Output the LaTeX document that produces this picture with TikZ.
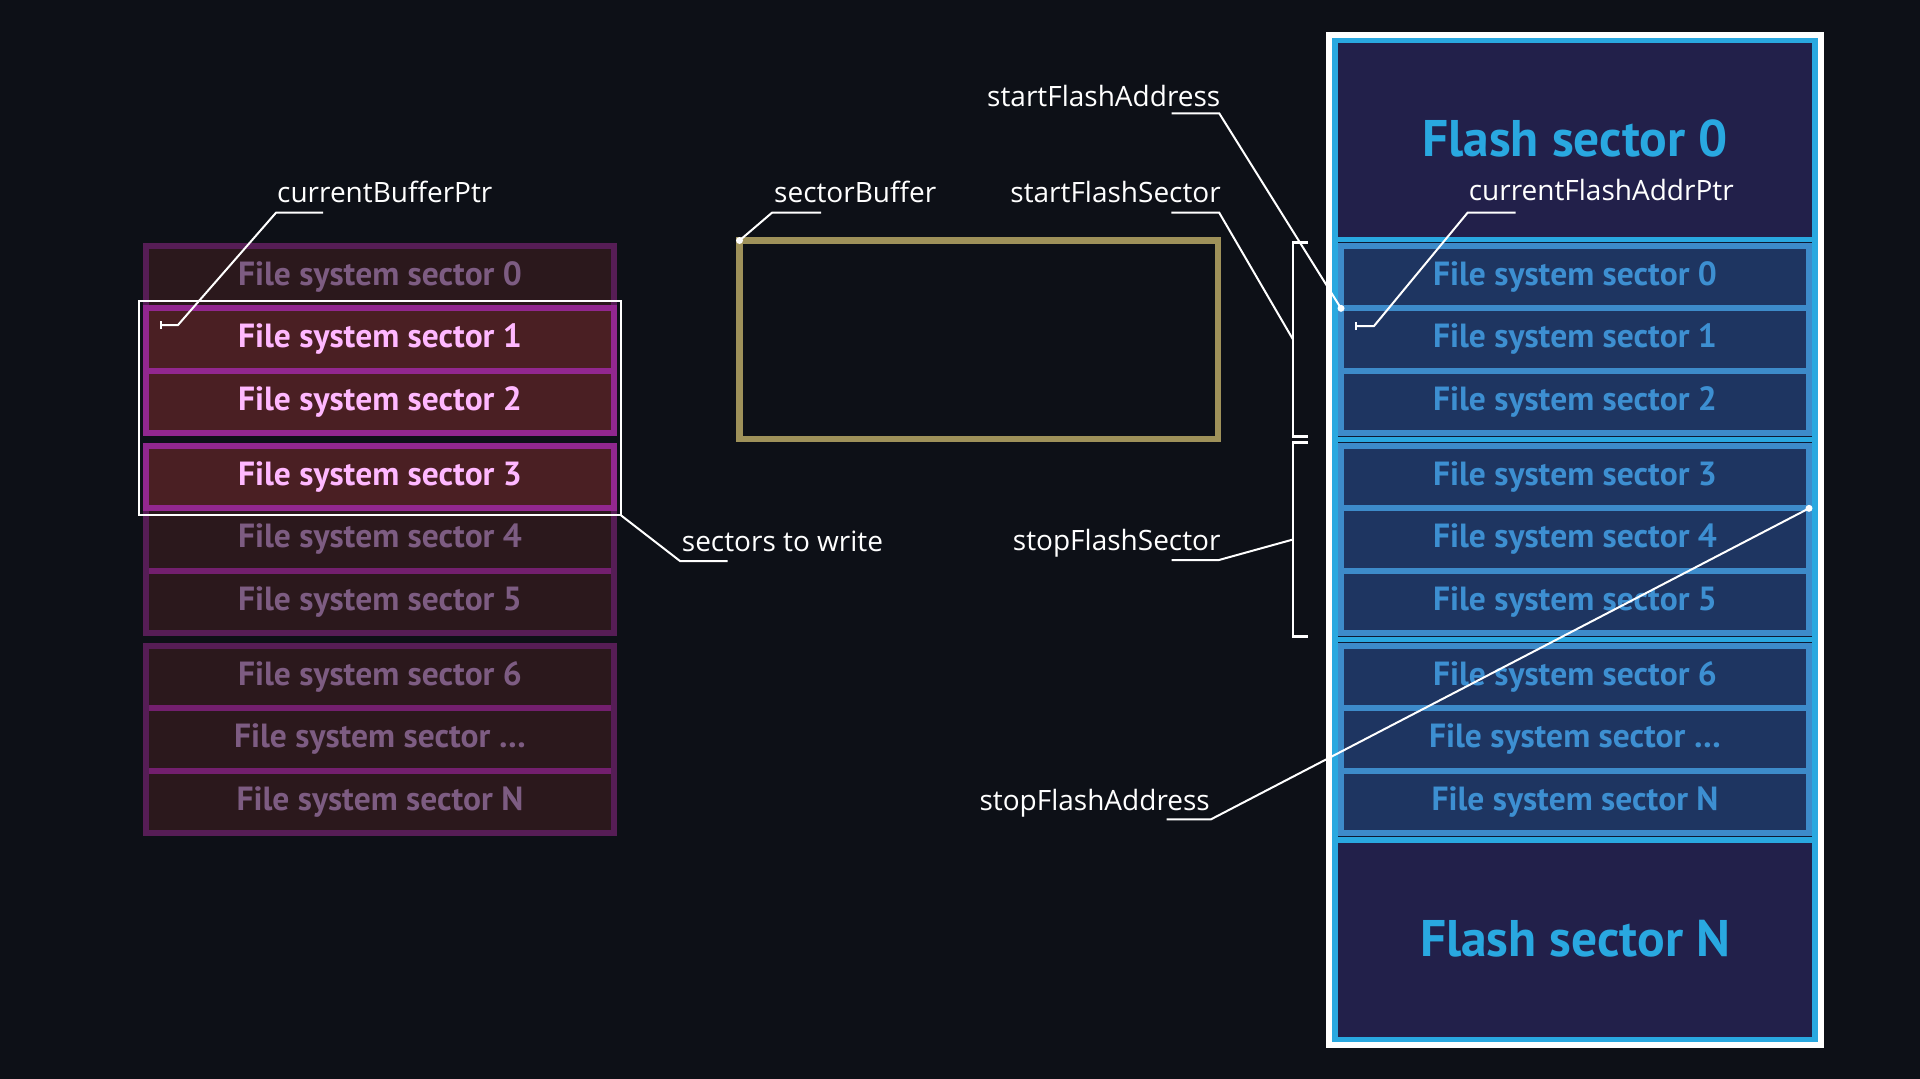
\documentclass[tikz,border=0pt]{standalone}
\usepackage{fontspec}
\setmainfont{Open Sans}
\newfontfamily\sectorfont{PT Sans}
\usetikzlibrary{arrows.meta,calc}

\definecolor{bgdark}{HTML}{0D1017}
\definecolor{dimfill}{HTML}{2B181C}
\definecolor{dimedge}{HTML}{561D56}
\definecolor{dimmid}{HTML}{731F6E}
\definecolor{dimtext}{HTML}{7D5C82}
\definecolor{hifill}{HTML}{4A1F23}
\definecolor{hiedge}{HTML}{92278F}
\definecolor{hitext}{HTML}{FFB8FF}
\definecolor{bufedge}{HTML}{9E915A}
\definecolor{flashcyan}{HTML}{29A8E0}
\definecolor{flashfill}{HTML}{22204A}
\definecolor{romfill}{HTML}{1E3561}
\definecolor{romedge}{HTML}{3D8BCA}
\definecolor{romtext}{HTML}{3D8FD1}
\definecolor{sepdark}{HTML}{0E1A33}

\tikzset{
  fssector/.style={minimum width=468pt, minimum height=62.33pt, inner sep=0pt, outer sep=0pt,
    font=\sectorfont\bfseries\fontsize{33.5}{38}\selectfont},
  dimsector/.style={fssector, fill=dimfill, text=dimtext},
  hisector/.style={fssector, fill=hifill, text=hitext},
  romsector/.style={fssector, fill=romfill, draw=romedge, line width=6pt, text=romtext},
  flashblock/.style={minimum width=474pt, minimum height=194pt, inner sep=0pt, outer sep=0pt,
    fill=flashfill, text=flashcyan, font=\sectorfont\bfseries\fontsize{51.5}{58}\selectfont},
  ptrlabel/.style={text=white, inner sep=0pt, font=\fontsize{28}{32}\selectfont},
  leader/.style={white, line width=2pt},
  bracket/.style={white, line width=2.5pt},
}

\begin{document}
\begin{tikzpicture}[x=1pt,y=-1pt]
    \fill[bgdark] (0,0) rectangle (1920,1079);
    \useasboundingbox (0,0) rectangle (1920,1079);

    % RAM side
    \foreach \i/\t/\s in {0/0/dimsector,1/1/hisector,2/2/hisector,3/3/hisector,4/4/dimsector,5/5/dimsector,6/6/dimsector,7/\dots/dimsector,8/N/dimsector}
        \node[\s] (L\i) at (380,{277.17+200*int(\i/3)+62.33*mod(\i,3)}) {File system sector \t};

    \foreach \a/\b in {0/2,3/5,6/8} {
        \draw[dimmid, line width=6pt] (L\a.south west) -- (L\a.south east) (L\b.north west) -- (L\b.north east);
        \draw[dimedge, line width=6pt] (L\a.north west) rectangle (L\b.south east);
    }
    \foreach \i in {1,2,3} \draw[hiedge, line width=6pt] (L\i.north west) rectangle (L\i.south east);

    \draw[white, line width=2pt] ($(L1.north west)+(-7,-7)$) coordinate (selNW) rectangle ($(L3.south east)+(7,7)$) coordinate (selSE);

    \node[draw=bufedge, line width=6.5pt, minimum width=478.5pt, minimum height=198.5pt, inner sep=0pt, outer sep=0pt] (buf) at (978.75,339.75) {};

    % flash side
    \draw[white, line width=6pt] (1329,35) rectangle (1821,1045);
    \fill[flashcyan] (1332,38) rectangle (1818,1042);
    \node[flashblock] (F0) at (1575,140) {\raisebox{3pt}{Flash sector 0}};
    \node[flashblock] (FN) at (1575,940) {\raisebox{3pt}{Flash sector N}};

    \foreach \i/\t in {0/0,1/1,2/2,3/3,4/4,5/5,6/6,7/\dots,8/N}
        \node[romsector] (R\i) at (1575,{277.17+200*int(\i/3)+62.33*mod(\i,3)}) {File system sector \t};
    \foreach \a/\b in {0/2,3/5,6/8}
        \draw[sepdark, line width=1pt] ($(R\a.north west)+(-3,-3.5)$) -- ($(R\a.north east)+(3,-3.5)$)
            ($(R\b.south west)+(-3,3.5)$) -- ($(R\b.south east)+(3,3.5)$);

    \coordinate (bk1) at ($(R1.west)+(-48,0)$);
    \coordinate (bk2) at ($(R4.west)+(-48,0)$);
    \draw[bracket] ($(R0.north west)+(-33,-3.3)$) -| (bk1) |- ($(R2.south west)+(-33,3.3)$);
    \draw[bracket] ($(R3.north west)+(-33,-3.3)$) -| (bk2) |- ($(R5.south west)+(-33,3.3)$);

    % labels
    \node[ptrlabel, anchor=base west] (cbp) at (277,202) {currentBufferPtr};
    \node[ptrlabel, anchor=base west] (sbf) at (774,202) {sectorBuffer};
    \node[ptrlabel, anchor=base west] (stw) at (681.7,551.7) {sectors to write};
    \node[ptrlabel, anchor=base east] (sfa) at (1220.5,106) {startFlashAddress};
    \node[ptrlabel, anchor=base east] (sfs) at (1221,202) {startFlashSector};
    \node[ptrlabel, anchor=base east] (pfs) at (1220.7,550.7) {stopFlashSector};
    \node[ptrlabel, anchor=base east] (pfa) at (1210,810) {stopFlashAddress};
    \node[ptrlabel, anchor=base west] (cfa) at (1468.6,200) {currentFlashAddrPtr};

    \coordinate (cbpTip) at ($(L1.west)+(14,-14.5)$);
    \coordinate (cfaTip) at ($(R1.west)+(14,-13.5)$);

    \draw[leader, -{Bar[width=8pt]}] ($(cbp.base west)+(46,10.7)$) -- ($(cbp.base west)+(-1,10.7)$) -- ($(cbpTip)+(18,0)$) -- (cbpTip);
    \draw[leader] ($(sbf.base west)+(47,10.7)$) -- ($(sbf.base west)+(-2,10.7)$) -- (buf.north west);
    \draw[leader] ($(stw.base west)+(46,9.3)$) -- ($(stw.base west)+(-1.7,9.3)$) -- (selSE);
    \draw[leader] ($(sfa.base east)+(-49,7.3)$) -- ($(sfa.base east)+(-1.3,7.3)$) -- (R0.south west);
    \draw[leader] ($(sfs.base east)+(-49.6,10.7)$) -- ($(sfs.base east)+(-1.8,10.7)$) -- (bk1);
    \draw[leader] ($(pfs.base east)+(-49,9.3)$) -- ($(pfs.base east)+(-1.7,9.3)$) -- (bk2);
    \draw[leader] ($(pfa.base east)+(-43.3,9.3)$) -- ($(pfa.base east)+(1,9.3)$) -- (R3.south east);
    \draw[leader, -{Bar[width=8pt]}] ($(cfa.base west)+(47,12.7)$) -- ($(cfa.base west)+(-1,12.7)$) -- ($(cfaTip)+(19,0)$) -- (cfaTip);

    \foreach \p in {buf.north west, R0.south west, R3.south east} \fill[white] (\p) circle (3.5pt);
\end{tikzpicture}
\end{document}
